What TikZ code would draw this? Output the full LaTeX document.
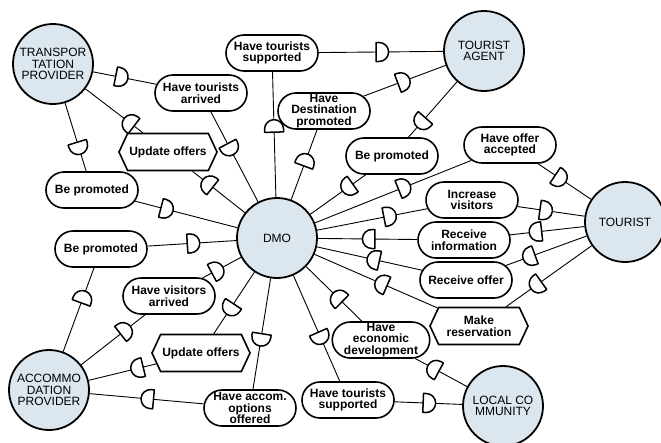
\documentclass[tikz,border=0pt]{standalone}
\usepackage{fontspec}
\setmainfont{Liberation Sans}
\usetikzlibrary{shapes.misc,shapes.symbols,decorations.markings}
\definecolor{actorfill}{RGB}{220,230,238}
\newcommand{\dsym}{\draw[line width=1.5pt,fill=white,line join=round] (-6pt,-9.5pt) -- (-3pt,-9.5pt) arc[start angle=-90,end angle=90,radius=9.5pt] -- (-6pt,9.5pt) -- cycle;}
\tikzset{
 actor/.style={circle, draw, line width=1.8pt, fill=actorfill, minimum size=80pt, inner sep=0pt, align=center, font=\fontsize{12}{11.5}\selectfont},
 goal/.style={rounded rectangle, draw, line width=1.6pt, fill=white, minimum width=92pt, minimum height=36pt, inner sep=0pt, align=center, font=\bfseries\fontsize{12}{11.5}\selectfont},
 task/.style={signal, signal to=east and west, signal pointer angle=130, draw, line width=1.6pt, fill=white, minimum width=98pt, minimum height=37pt, inner sep=0pt, align=center, font=\bfseries\fontsize{12}{11.5}\selectfont},
 dep/.style={draw, line width=0.9pt, postaction={decorate, decoration={markings, mark=at position #1 with {\dsym}}}},
}
\begin{document}
\begin{tikzpicture}[x=1pt,y=-1pt]
\useasboundingbox[fill=white] (0,0) rectangle (661,442);
% actors
\node[actor] (tp) at (53,64) {TRANSPOR\\TATION\\PROVIDER};
\node[actor] (ta) at (484,51) {TOURIST\\AGENT};
\node[actor] (dmo) at (277,238) {DMO};
\node[actor] (tou) at (625,222) {TOURIST};
\node[actor] (ap) at (49,390) {ACCOMMO\\DATION\\PROVIDER};
\node[actor] (lc) at (503,406) {LOCAL CO\\MMUNITY};
% goals and tasks
\node[goal] (hts1) at (272,53) {Have tourists\\supported};
\node[goal] (hta) at (201,93) {Have tourists\\arrived};
\node[goal] (hdp) at (324,111) {Have\\Destination\\promoted};
\node[task] (uo1) at (168,152) {Update offers};
\node[goal] (bp1) at (92,190) {Be promoted};
\node[goal] (bp2) at (392,156) {Be promoted};
\node[goal] (hoa) at (510,145) {Have offer\\accepted};
\node[goal] (iv) at (472,200) {Increase\\visitors};
\node[goal] (ri) at (464,240) {Receive\\information};
\node[goal] (ro) at (466,280) {Receive offer};
\node[task] (mr) at (479,326) {Make\\reservation};
\node[goal] (hed) at (381,340) {Have\\economic\\development};
\node[goal] (hts2) at (348,400) {Have tourists\\supported};
\node[goal] (haoo) at (250,408) {Have accom.\\options\\offered};
\node[task] (uo2) at (201,353) {Update offers};
\node[goal] (hva) at (169,296) {Have visitors\\arrived};
\node[goal] (bp3) at (101,249) {Be promoted};
% dependencies
\draw[dep=29pt] (tp) -- (hta);
\draw[dep=42pt] (hta) -- (dmo);
\draw[dep=47pt] (dmo) -- (uo1);
\draw[dep=-55pt] (uo1) -- (tp);
\draw[dep=47pt] (tp) -- (bp1);
\draw[dep=-73pt] (bp1) -- (dmo);
\draw[dep=71pt] (dmo) -- (hts1);
\draw[dep=-61pt] (hts1) -- (ta);
\draw[dep=42pt] (dmo) -- (hdp);
\draw[dep=-45pt] (hdp) -- (ta);
\draw[dep=54pt] (ta) -- (bp2);
\draw[dep=-46pt] (bp2) -- (dmo);
\draw[dep=96pt] (dmo) -- (hoa);
\draw[dep=-37pt] (hoa) -- (tou);
\draw[dep=74pt] (dmo) -- (iv);
\draw[dep=-39pt] (iv) -- (tou);
\draw[dep=49pt] (tou) -- (ri);
\draw[dep=-51pt] (ri) -- (dmo);
\draw[dep=61pt] (tou) -- (ro);
\draw[dep=-58pt] (ro) -- (dmo);
\draw[dep=68pt] (tou) -- (mr);
\draw[dep=-73pt] (mr) -- (dmo);
\draw[dep=38pt] (lc) -- (hed);
\draw[dep=-44pt] (hed) -- (dmo);
\draw[dep=68pt] (dmo) -- (hts2);
\draw[dep=-33pt] (hts2) -- (lc);
\draw[dep=62pt] (dmo) -- (haoo);
\draw[dep=-58pt] (haoo) -- (ap);
\draw[dep=44pt] (dmo) -- (uo2);
\draw[dep=-50pt] (uo2) -- (ap);
\draw[dep=56pt] (ap) -- (hva);
\draw[dep=-27pt] (hva) -- (dmo);
\draw[dep=58pt] (ap) -- (bp3);
\draw[dep=-43pt] (bp3) -- (dmo);
\end{tikzpicture}
\end{document}
